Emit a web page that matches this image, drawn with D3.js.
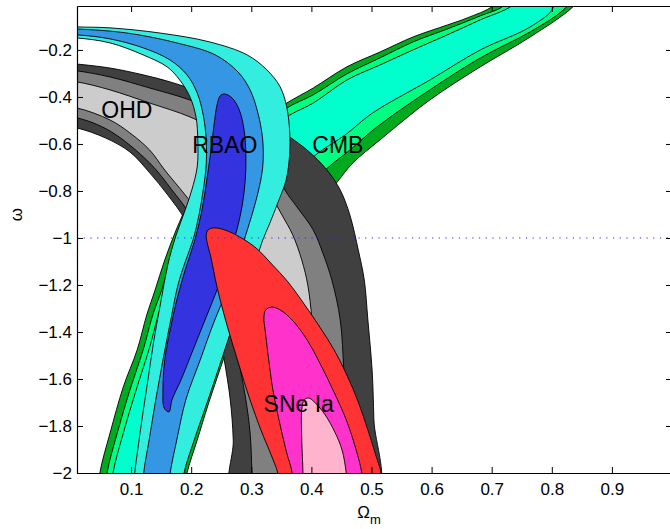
<!DOCTYPE html>
<html><head><meta charset="utf-8">
<script src="https://cdn.jsdelivr.net/npm/d3@7"></script>
<style>
body{margin:0;background:#fff}
svg{display:block}
text{font-family:"Liberation Sans",Arial,Helvetica,sans-serif}
</style>
</head><body>
<svg id="chart" width="670" height="529"></svg>
<script>
// ---------- data (Omega_m, w) ----------
const xTicks = [0.1,0.2,0.3,0.4,0.5,0.6,0.7,0.8,0.9,1];
const xTickLabels = ["0.1","0.2","0.3","0.4","0.5","0.6","0.7","0.8","0.9",""];
const yTicks = [-2,-1.8,-1.6,-1.4,-1.2,-1,-0.8,-0.6,-0.4,-0.2];

// CMB contours (3, 2, 1 sigma)
const cmb3 = [[0.045,-2.10],[0.048,-2.000],[0.065,-1.830],[0.087,-1.634],[0.110,-1.477],[0.126,-1.328],[0.140,-1.221],[0.156,-1.094],[0.175,-0.966],[0.198,-0.838],[0.231,-0.711],[0.273,-0.604],[0.314,-0.506],[0.359,-0.426],[0.403,-0.362],[0.459,-0.272],[0.514,-0.209],[0.569,-0.145],[0.626,-0.094],[0.659,-0.064],[0.702,-0.013],[0.722,0.05],[0.855,0.05],[0.835,-0.017],[0.764,-0.145],[0.681,-0.272],[0.597,-0.413],[0.514,-0.583],[0.469,-0.681],[0.439,-0.774],[0.401,-0.881],[0.361,-1.009],[0.318,-1.157],[0.286,-1.306],[0.268,-1.413],[0.255,-1.506],[0.243,-1.596],[0.228,-1.711],[0.210,-1.860],[0.193,-2.000],[0.186,-2.10]];
const cmb2 = [[0.057,-2.10],[0.060,-2.000],[0.077,-1.830],[0.098,-1.647],[0.120,-1.477],[0.136,-1.328],[0.151,-1.221],[0.166,-1.102],[0.185,-0.974],[0.208,-0.851],[0.240,-0.728],[0.281,-0.617],[0.321,-0.523],[0.359,-0.447],[0.403,-0.391],[0.459,-0.302],[0.514,-0.234],[0.569,-0.166],[0.626,-0.111],[0.681,-0.055],[0.719,-0.013],[0.734,0.05],[0.844,0.05],[0.819,-0.030],[0.764,-0.123],[0.681,-0.234],[0.597,-0.370],[0.509,-0.528],[0.464,-0.626],[0.423,-0.711],[0.381,-0.830],[0.344,-0.966],[0.306,-1.128],[0.278,-1.285],[0.256,-1.434],[0.233,-1.604],[0.211,-1.774],[0.191,-1.945],[0.181,-2.10]];
const cmb1 = [[0.067,-2.10],[0.070,-2.000],[0.090,-1.804],[0.110,-1.634],[0.131,-1.464],[0.145,-1.328],[0.158,-1.221],[0.173,-1.102],[0.191,-0.974],[0.215,-0.851],[0.248,-0.736],[0.286,-0.638],[0.324,-0.545],[0.364,-0.477],[0.403,-0.426],[0.459,-0.328],[0.514,-0.264],[0.569,-0.200],[0.626,-0.136],[0.681,-0.072],[0.735,-0.009],[0.750,0.05],[0.797,0.05],[0.802,-0.021],[0.764,-0.102],[0.681,-0.200],[0.597,-0.328],[0.502,-0.468],[0.456,-0.562],[0.403,-0.655],[0.364,-0.766],[0.328,-0.902],[0.298,-1.051],[0.273,-1.221],[0.248,-1.391],[0.223,-1.583],[0.198,-1.774],[0.178,-1.945],[0.168,-2.10]];

// OHD contours
const ohd3 = [[-0.03,-0.251],[0.010,-0.260],[0.065,-0.277],[0.120,-0.306],[0.165,-0.336],[0.215,-0.379],[0.281,-0.443],[0.331,-0.506],[0.364,-0.570],[0.393,-0.626],[0.426,-0.711],[0.448,-0.796],[0.464,-0.902],[0.478,-1.051],[0.488,-1.179],[0.494,-1.349],[0.501,-1.562],[0.504,-1.774],[0.507,-2.10],[0.270,-2.10],[0.270,-1.860],[0.265,-1.689],[0.255,-1.519],[0.243,-1.349],[0.228,-1.179],[0.211,-1.051],[0.190,-0.923],[0.161,-0.817],[0.131,-0.723],[0.098,-0.634],[0.057,-0.574],[0.010,-0.532],[-0.03,-0.519]];
const ohd2 = [[-0.03,-0.281],[0.010,-0.289],[0.065,-0.315],[0.131,-0.362],[0.198,-0.413],[0.265,-0.485],[0.314,-0.583],[0.339,-0.689],[0.356,-0.796],[0.376,-0.868],[0.403,-0.966],[0.419,-1.064],[0.434,-1.179],[0.448,-1.349],[0.454,-1.562],[0.459,-1.774],[0.463,-2.10],[0.301,-2.10],[0.301,-2.000],[0.298,-1.830],[0.291,-1.689],[0.281,-1.549],[0.268,-1.391],[0.248,-1.221],[0.223,-1.051],[0.198,-0.902],[0.168,-0.796],[0.131,-0.681],[0.065,-0.545],[0.010,-0.489],[-0.03,-0.481]];
const ohd1 = [[-0.03,-0.328],[0.010,-0.336],[0.065,-0.370],[0.131,-0.426],[0.198,-0.485],[0.256,-0.562],[0.298,-0.660],[0.328,-0.796],[0.351,-0.902],[0.369,-0.987],[0.384,-1.094],[0.394,-1.200],[0.401,-1.349],[0.406,-1.562],[0.408,-1.774],[0.408,-2.10],[0.356,-2.10],[0.353,-1.774],[0.339,-1.604],[0.318,-1.434],[0.293,-1.264],[0.261,-1.094],[0.228,-0.945],[0.190,-0.817],[0.156,-0.711],[0.131,-0.626],[0.098,-0.553],[0.065,-0.498],[0.010,-0.447],[-0.03,-0.438]];

// RBAO contours
const rbao3 = [[-0.03,-0.098],[0.010,-0.102],[0.065,-0.106],[0.148,-0.128],[0.231,-0.166],[0.293,-0.221],[0.326,-0.285],[0.348,-0.357],[0.359,-0.443],[0.364,-0.553],[0.364,-0.638],[0.358,-0.753],[0.344,-0.851],[0.331,-0.936],[0.319,-1.009],[0.308,-1.094],[0.295,-1.187],[0.278,-1.306],[0.253,-1.498],[0.228,-1.689],[0.205,-1.860],[0.188,-2.000],[0.183,-2.10],[0.103,-2.10],[0.106,-2.000],[0.111,-1.902],[0.118,-1.774],[0.128,-1.604],[0.138,-1.434],[0.150,-1.264],[0.161,-1.115],[0.175,-0.987],[0.190,-0.881],[0.201,-0.796],[0.210,-0.698],[0.211,-0.583],[0.208,-0.485],[0.198,-0.400],[0.181,-0.328],[0.160,-0.272],[0.120,-0.221],[0.065,-0.170],[0.010,-0.149],[-0.03,-0.145]];
const rbao2 = [[-0.03,-0.111],[0.010,-0.111],[0.093,-0.128],[0.176,-0.170],[0.240,-0.221],[0.278,-0.294],[0.298,-0.370],[0.311,-0.468],[0.319,-0.583],[0.319,-0.698],[0.311,-0.809],[0.300,-0.911],[0.288,-1.009],[0.275,-1.115],[0.260,-1.221],[0.238,-1.357],[0.215,-1.519],[0.191,-1.689],[0.176,-1.860],[0.165,-2.000],[0.161,-2.10],[0.120,-2.10],[0.121,-2.000],[0.130,-1.860],[0.141,-1.689],[0.153,-1.519],[0.166,-1.349],[0.178,-1.200],[0.190,-1.102],[0.203,-1.009],[0.213,-0.902],[0.220,-0.796],[0.225,-0.689],[0.225,-0.583],[0.220,-0.477],[0.210,-0.383],[0.193,-0.306],[0.165,-0.243],[0.120,-0.191],[0.065,-0.153],[0.010,-0.136],[-0.03,-0.136]];
const rbao1 = [[0.255,-0.387],[0.268,-0.404],[0.280,-0.455],[0.288,-0.540],[0.291,-0.647],[0.290,-0.753],[0.285,-0.860],[0.276,-0.966],[0.261,-1.094],[0.243,-1.221],[0.223,-1.349],[0.203,-1.477],[0.183,-1.604],[0.168,-1.689],[0.163,-1.740],[0.155,-1.723],[0.153,-1.647],[0.156,-1.519],[0.165,-1.391],[0.176,-1.264],[0.190,-1.136],[0.206,-1.009],[0.218,-0.881],[0.226,-0.753],[0.233,-0.626],[0.238,-0.519],[0.243,-0.434],[0.248,-0.396]];

// SNe Ia contours
const sne3 = [[0.225,-0.991],[0.228,-0.966],[0.238,-0.957],[0.256,-0.966],[0.281,-0.996],[0.308,-1.043],[0.334,-1.111],[0.361,-1.187],[0.389,-1.285],[0.414,-1.379],[0.438,-1.477],[0.459,-1.583],[0.478,-1.698],[0.494,-1.817],[0.507,-1.923],[0.516,-2.000],[0.519,-2.10],[0.348,-2.10],[0.344,-2.000],[0.333,-1.923],[0.316,-1.817],[0.298,-1.689],[0.278,-1.528],[0.258,-1.357],[0.243,-1.209],[0.233,-1.085]];
const sne2 = [[0.321,-1.340],[0.324,-1.306],[0.334,-1.294],[0.348,-1.306],[0.368,-1.349],[0.393,-1.434],[0.414,-1.532],[0.436,-1.647],[0.458,-1.774],[0.473,-1.889],[0.484,-2.000],[0.488,-2.10],[0.369,-2.10],[0.368,-2.000],[0.359,-1.915],[0.348,-1.796],[0.336,-1.647],[0.328,-1.498],[0.323,-1.391]];
const sne1 = [[0.384,-1.732],[0.388,-1.689],[0.396,-1.681],[0.408,-1.706],[0.423,-1.753],[0.439,-1.826],[0.451,-1.902],[0.458,-2.000],[0.461,-2.10],[0.386,-2.10],[0.386,-2.000],[0.384,-1.860]];

const regionLabels = [
  {text:"OHD",   x:0.093, y:-0.489},
  {text:"RBAO",  x:0.256, y:-0.638},
  {text:"CMB",   x:0.444, y:-0.638},
  {text:"SNe Ia",x:0.379, y:-1.740}
];

// ---------- drawing ----------
const svg = d3.select("#chart");
const L = 77, R = 672, T = 6, B = 473;
const x = d3.scaleLinear().domain([0.01, 1]).range([L, R]);
const y = d3.scaleLinear().domain([-2, -0.013]).range([B, T]);

svg.append("defs").append("clipPath").attr("id","plotclip")
  .append("rect").attr("x",L).attr("y",T).attr("width",R-L).attr("height",B-T);

const plot = svg.append("g").attr("clip-path","url(#plotclip)");
const line = d3.line().x(d=>x(d[0])).y(d=>y(d[1])).curve(d3.curveCatmullRomClosed.alpha(0.5));

const layers = [
  [cmb3,"#00aa1e"],[cmb2,"#00ff80"],[cmb1,"#00ffcc"],
  [ohd3,"#404040"],[ohd2,"#808080"],[ohd1,"#cccccc"],
  [rbao3,"#33eedf"],[rbao2,"#3597e4"],[rbao1,"#3333e0"],
  [sne3,"#ff3333"],[sne2,"#ff33cc"],[sne1,"#ffb3cc"]
];
plot.selectAll("path.contour").data(layers).join("path")
  .attr("class","contour")
  .attr("d", d=>line(d[0]))
  .attr("fill", d=>d[1])
  .attr("stroke","#000")
  .attr("stroke-width",0.9)
  .attr("stroke-linejoin","round");

plot.selectAll("text.lab").data(regionLabels).join("text")
  .attr("class","lab")
  .attr("x", d=>x(d.x)).attr("y", d=>y(d.y))
  .attr("text-anchor","middle")
  .attr("font-size",23)
  .attr("fill","#000")
  .text(d=>d.text);

// w = -1 dotted line
plot.append("line")
  .attr("x1",L).attr("x2",R).attr("y1",y(-1)).attr("y2",y(-1))
  .attr("stroke","#2626ff").attr("stroke-width",1)
  .attr("stroke-dasharray","1.2 5.5");

const fmt = d => d < 0 ? "\u2212" + Math.abs(d) : String(d);

const gx = svg.append("g").attr("transform",`translate(0,${B})`)
  .call(d3.axisBottom(x).tickValues(xTicks).tickSizeInner(-6).tickSizeOuter(0).tickPadding(10)
    .tickFormat((d,i)=>xTickLabels[i]));
const gy = svg.append("g").attr("transform",`translate(${L},0)`)
  .call(d3.axisLeft(y).tickValues(yTicks).tickSizeInner(-6).tickSizeOuter(0).tickPadding(5).tickFormat(fmt));
const gt = svg.append("g").attr("transform",`translate(0,${T})`)
  .call(d3.axisTop(x).tickValues(xTicks).tickSizeInner(-6).tickSizeOuter(0).tickFormat(""));
const gr = svg.append("g").attr("transform",`translate(${R},0)`)
  .call(d3.axisRight(y).tickValues(yTicks).tickSizeInner(-6).tickSizeOuter(0).tickFormat(""));

[gx,gy,gt,gr].forEach(g=>{
  g.attr("font-family",null).attr("font-size",17);
  g.selectAll("path.domain").attr("stroke","#000").attr("stroke-width",1.2);
  g.selectAll(".tick line").attr("stroke","#000").attr("stroke-width",1);
  g.selectAll(".tick text").attr("fill","#000");
});

// axis titles
const xt = svg.append("text").attr("x",369).attr("y",518).attr("text-anchor","middle").attr("font-size",17);
xt.append("tspan").text("\u03A9");
xt.append("tspan").attr("dy",6).attr("font-size",13).text("m");

svg.append("text")
  .attr("transform",`translate(22,${(T+B)/2 - 25}) rotate(-90)`)
  .attr("text-anchor","middle").attr("font-size",17)
  .text("\u03C9");
</script>
</body></html>
